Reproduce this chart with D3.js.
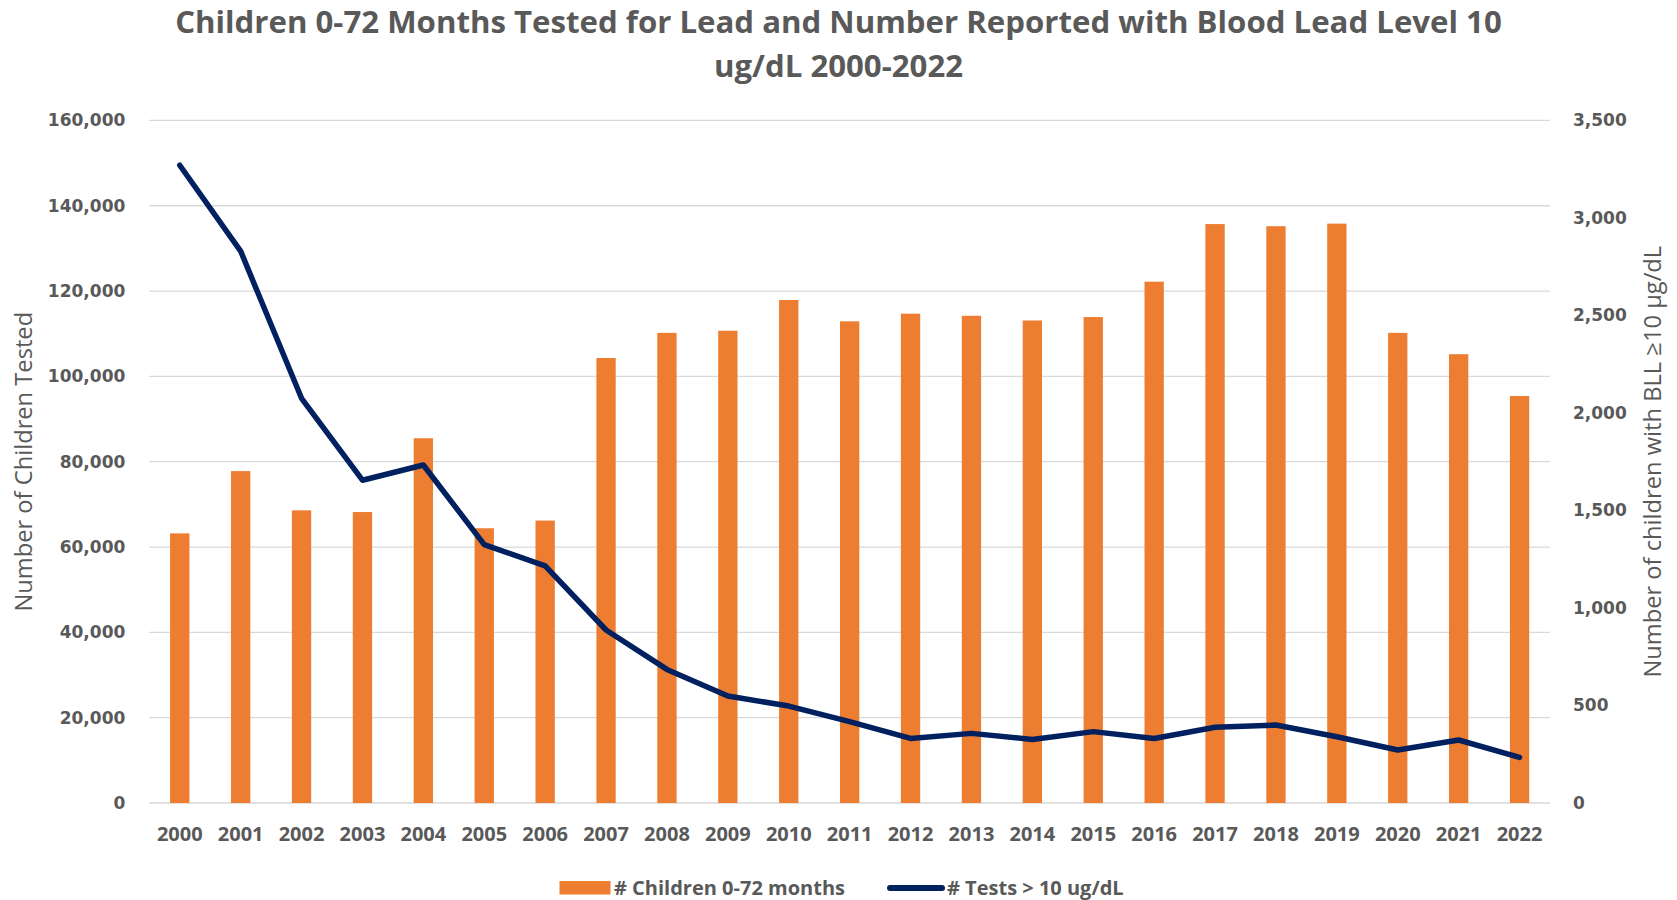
<!DOCTYPE html>
<html>
<head>
<meta charset="utf-8">
<script src="https://cdn.jsdelivr.net/npm/d3@7/dist/d3.min.js"></script>
<style>
  body { margin: 0; background: #fff; }
  svg text { fill: #595959; }
</style>
</head>
<body>
<div id="chart"></div>
<script>
// years on the x axis
var years = ["2000","2001","2002","2003","2004","2005","2006","2007","2008","2009","2010",
  "2011","2012","2013","2014","2015","2016","2017","2018","2019","2020","2021","2022"];

// # children 0-72 months tested (left axis)
var childrenTested = [63200, 77800, 68600, 68200, 85500, 64400, 66200, 104300, 110200, 110700,
  117900, 112900, 114700, 114200, 113100, 113900, 122200, 135700, 135200, 135800,
  110200, 105200, 95400];

// # tests > 10 ug/dL (right axis)
var testsOver10 = [3270, 2830, 2075, 1655, 1733, 1325, 1216, 887, 685, 549, 497, 417,
  331, 357, 326, 366, 331, 388, 400, 340, 272, 323, 234];

var leftTicks = [0, 20000, 40000, 60000, 80000, 100000, 120000, 140000, 160000];
var rightTicks = [0, 500, 1000, 1500, 2000, 2500, 3000, 3500];

var titleLines = ["Children 0-72 Months Tested for Lead and Number Reported with Blood Lead Level 10",
  "ug/dL 2000-2022"];

var W = 1677, H = 900;
var plot = { left: 149.3, right: 1550, top: 120.4, bottom: 803 };

var svg = d3.select("#chart").append("svg")
    .attr("width", W).attr("height", H);

var x = d3.scaleBand().domain(years)
    .range([plot.left, plot.right])
    .paddingInner(0.683).paddingOuter(0.3415);

var yL = d3.scaleLinear().domain([0, 160000]).range([plot.bottom, plot.top]);
var yR = d3.scaleLinear().domain([0, 3500]).range([plot.bottom, plot.top]);

// === title
svg.append("g").selectAll("text")
  .data(titleLines).enter()
  .append("text")
    .attr("x", W / 2)
    .attr("y", function(d, i) { return 32.5 + i * 44; })
    .attr("text-anchor", "middle")
    .style("font-family", "'Open Sans', sans-serif")
    .style("font-weight", 700)
    .style("font-size", "31.2px")
    .text(function(d) { return d; });

// === gridlines
svg.append("g").selectAll("line")
  .data(leftTicks).enter()
  .append("line")
    .attr("x1", plot.left).attr("x2", plot.right)
    .attr("y1", function(d) { return yL(d); })
    .attr("y2", function(d) { return yL(d); })
    .attr("stroke", "#d9d9d9")
    .attr("stroke-width", 1.3);

// === left axis
var axL = svg.append("g")
    .attr("transform", "translate(" + (plot.left - 24) + ",0)")
    .call(d3.axisLeft(yL).tickValues(leftTicks).tickSize(0).tickPadding(0).tickFormat(d3.format(",")));
axL.select(".domain").remove();
axL.selectAll("text")
    .style("font-family", "'DejaVu Sans', sans-serif")
    .style("font-weight", 700)
    .style("font-size", "17px")
    .attr("fill", "#595959");

// === right axis
var axR = svg.append("g")
    .attr("transform", "translate(" + (plot.right + 23) + ",0)")
    .call(d3.axisRight(yR).tickValues(rightTicks).tickSize(0).tickPadding(0).tickFormat(d3.format(",")));
axR.select(".domain").remove();
axR.selectAll("text")
    .style("font-family", "'DejaVu Sans', sans-serif")
    .style("font-weight", 700)
    .style("font-size", "17px")
    .attr("fill", "#595959");

// === bars
svg.append("g").selectAll("rect")
  .data(childrenTested).enter()
  .append("rect")
    .attr("x", function(d, i) { return x(years[i]); })
    .attr("width", x.bandwidth())
    .attr("y", function(d) { return yL(d); })
    .attr("height", function(d) { return plot.bottom - yL(d); })
    .attr("fill", "#ed7d31");

// === line
var line = d3.line()
    .x(function(d, i) { return x(years[i]) + x.bandwidth() / 2; })
    .y(function(d) { return yR(d); });

svg.append("path")
    .datum(testsOver10)
    .attr("d", line)
    .attr("fill", "none")
    .attr("stroke", "#002060")
    .attr("stroke-width", 5.5)
    .attr("stroke-linejoin", "round")
    .attr("stroke-linecap", "round");

// === x labels
var axX = svg.append("g")
    .attr("transform", "translate(0," + plot.bottom + ")")
    .call(d3.axisBottom(x).tickSize(0).tickPadding(0));
axX.select(".domain").remove();
axX.selectAll("text")
    .attr("dy", 0)
    .attr("y", 38)
    .style("font-family", "'Open Sans', sans-serif")
    .style("font-weight", 700)
    .style("font-size", "20px")
    .attr("fill", "#595959");

// === axis titles
svg.append("text")
    .attr("transform", "translate(32," + ((plot.top + plot.bottom) / 2) + ") rotate(-90)")
    .attr("text-anchor", "middle")
    .style("font-family", "'Open Sans', sans-serif")
    .style("font-size", "23.7px")
    .text("Number of Children Tested");

svg.append("text")
    .attr("transform", "translate(1661," + ((plot.top + plot.bottom) / 2) + ") rotate(-90)")
    .attr("text-anchor", "middle")
    .style("font-family", "'Open Sans', sans-serif")
    .style("font-size", "23.7px")
    .text("Number of children with BLL \u226510 \u00b5g/dL");

// === legend
var lg = svg.append("g");
lg.append("rect")
    .attr("x", 559.5).attr("y", 881)
    .attr("width", 51).attr("height", 13.5)
    .attr("fill", "#ed7d31");
lg.append("text")
    .attr("x", 614).attr("y", 895)
    .style("font-family", "'Open Sans', sans-serif")
    .style("font-weight", 700)
    .style("font-size", "20px")
    .text("# Children 0-72 months");
lg.append("line")
    .attr("x1", 890).attr("x2", 942)
    .attr("y1", 888).attr("y2", 888)
    .attr("stroke", "#002060")
    .attr("stroke-width", 6)
    .attr("stroke-linecap", "round");
lg.append("text")
    .attr("x", 947).attr("y", 895)
    .style("font-family", "'Open Sans', sans-serif")
    .style("font-weight", 700)
    .style("font-size", "20px")
    .text("# Tests > 10 ug/dL");
</script>
</body>
</html>
